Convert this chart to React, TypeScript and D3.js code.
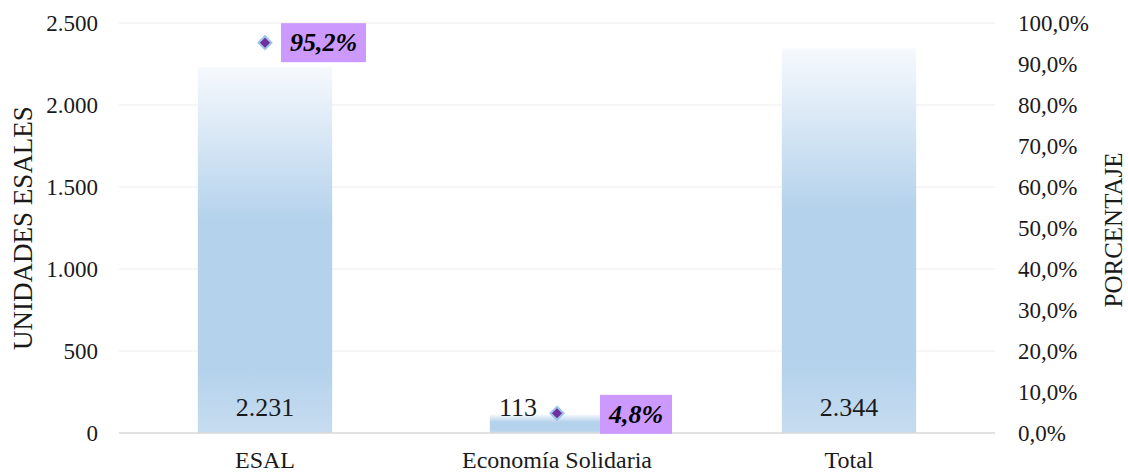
import React from "react";
import * as d3 from "d3";

const categories = ["ESAL", "Economía Solidaria", "Total"];
const unidades = [2231, 113, 2344];
const porcentaje: (number | null)[] = [95.2, 4.8, null];
const leftTicks = [0, 500, 1000, 1500, 2000, 2500];
const rightTicks = [0, 10, 20, 30, 40, 50, 60, 70, 80, 90, 100];

const W = 1128, H = 473;
const M = { l: 119, r: 995, t: 23, b: 433 };
const FONT = "'Liberation Serif', 'Times New Roman', Times, serif";
const TS = { fontFamily: FONT };

export default function App() {
  const x = d3.scaleBand<string>().domain(categories).range([M.l, M.r]).paddingInner(0.54).paddingOuter(0.27);
  const y = d3.scaleLinear().domain([0, 2500]).range([M.b, M.t]);
  const y2 = d3.scaleLinear().domain([0, 100]).range([M.b, M.t]);
  const fmtN = (v: number) => v.toLocaleString("de-DE");
  const fmtP = (v: number) => v.toFixed(1).replace(".", ",") + "%";
  const bw = x.bandwidth();
  const labelOffsets = [{ dx: 16, w: 85, dy: 0 }, { dx: 43, w: 72, dy: 1 }];
  const valueDx = [0, -39, 0];

  return (
    <svg width={W} height={H} style={{ position: "absolute", left: 0, top: 0, background: "#fff", fontFamily: FONT }}>
      <defs>
        <linearGradient id="barGrad" x1="0" y1="0" x2="0" y2="1">
          <stop offset="0" stopColor="#f6f9fd" />
          <stop offset="0.42" stopColor="#b4d2ec" />
          <stop offset="0.82" stopColor="#b4d2ec" />
          <stop offset="1" stopColor="#c6dcf0" />
        </linearGradient>
      </defs>
      {leftTicks.map((t) => (
        <g key={t}>
          {t > 0 && <line x1={M.l} x2={M.r} y1={y(t)} y2={y(t)} stroke="#eeeeee" strokeWidth={1.2} />}
          <text style={TS} x={98} y={y(t)} dy="0.33em" textAnchor="end" fontSize={23} fill="#1a1a1a">{fmtN(t)}</text>
        </g>
      ))}
      {rightTicks.map((t) => (
        <text style={TS} key={t} x={1018} y={y2(t)} dy="0.33em" textAnchor="start" fontSize={23} fill="#1a1a1a">{fmtP(t)}</text>
      ))}
      {categories.map((c, i) => (
        <rect key={c} x={x(c)} y={y(unidades[i])} width={bw} height={y(0) - y(unidades[i])} fill="url(#barGrad)" />
      ))}
      <line x1={M.l} x2={M.r} y1={M.b} y2={M.b} stroke="#d9d9d9" strokeWidth={1.5} />
      {categories.map((c) => (
        <text style={TS} key={c} x={(x(c) as number) + bw / 2} y={468} textAnchor="middle" fontSize={24} fill="#1a1a1a">{c}</text>
      ))}
      {categories.map((c, i) => (
        <text style={TS} key={c} x={(x(c) as number) + bw / 2 + valueDx[i]} y={416} textAnchor="middle" fontSize={26} fill="#1a1a1a">{fmtN(unidades[i])}</text>
      ))}
      {categories.map((c, i) => {
        const p = porcentaje[i];
        if (p == null) return null;
        const cx = (x(c) as number) + bw / 2;
        const cy = y2(p);
        const o = labelOffsets[i];
        return (
          <g key={c}>
            <path d={`M${cx},${cy - 6.5}L${cx + 6.5},${cy}L${cx},${cy + 6.5}L${cx - 6.5},${cy}Z`} fill="#7030a0" stroke="#9dc3e6" strokeWidth={2} />
            <rect x={cx + o.dx} y={cy - 19.5 + o.dy} width={o.w} height={39} fill="#cc99ff" />
            <text style={TS} x={cx + o.dx + o.w / 2} y={cy + o.dy} dy="0.33em" textAnchor="middle" fontSize={26} fontWeight="bold" fontStyle="italic" fill="#000">{fmtP(p)}</text>
          </g>
        );
      })}
      <text style={TS} transform={`translate(32,228) rotate(-90)`} textAnchor="middle" fontSize={27} fill="#1a1a1a">UNIDADES  ESALES</text>
      <text style={TS} transform={`translate(1122,230) rotate(-90)`} textAnchor="middle" fontSize={25} fill="#1a1a1a">PORCENTAJE</text>
    </svg>
  );
}
